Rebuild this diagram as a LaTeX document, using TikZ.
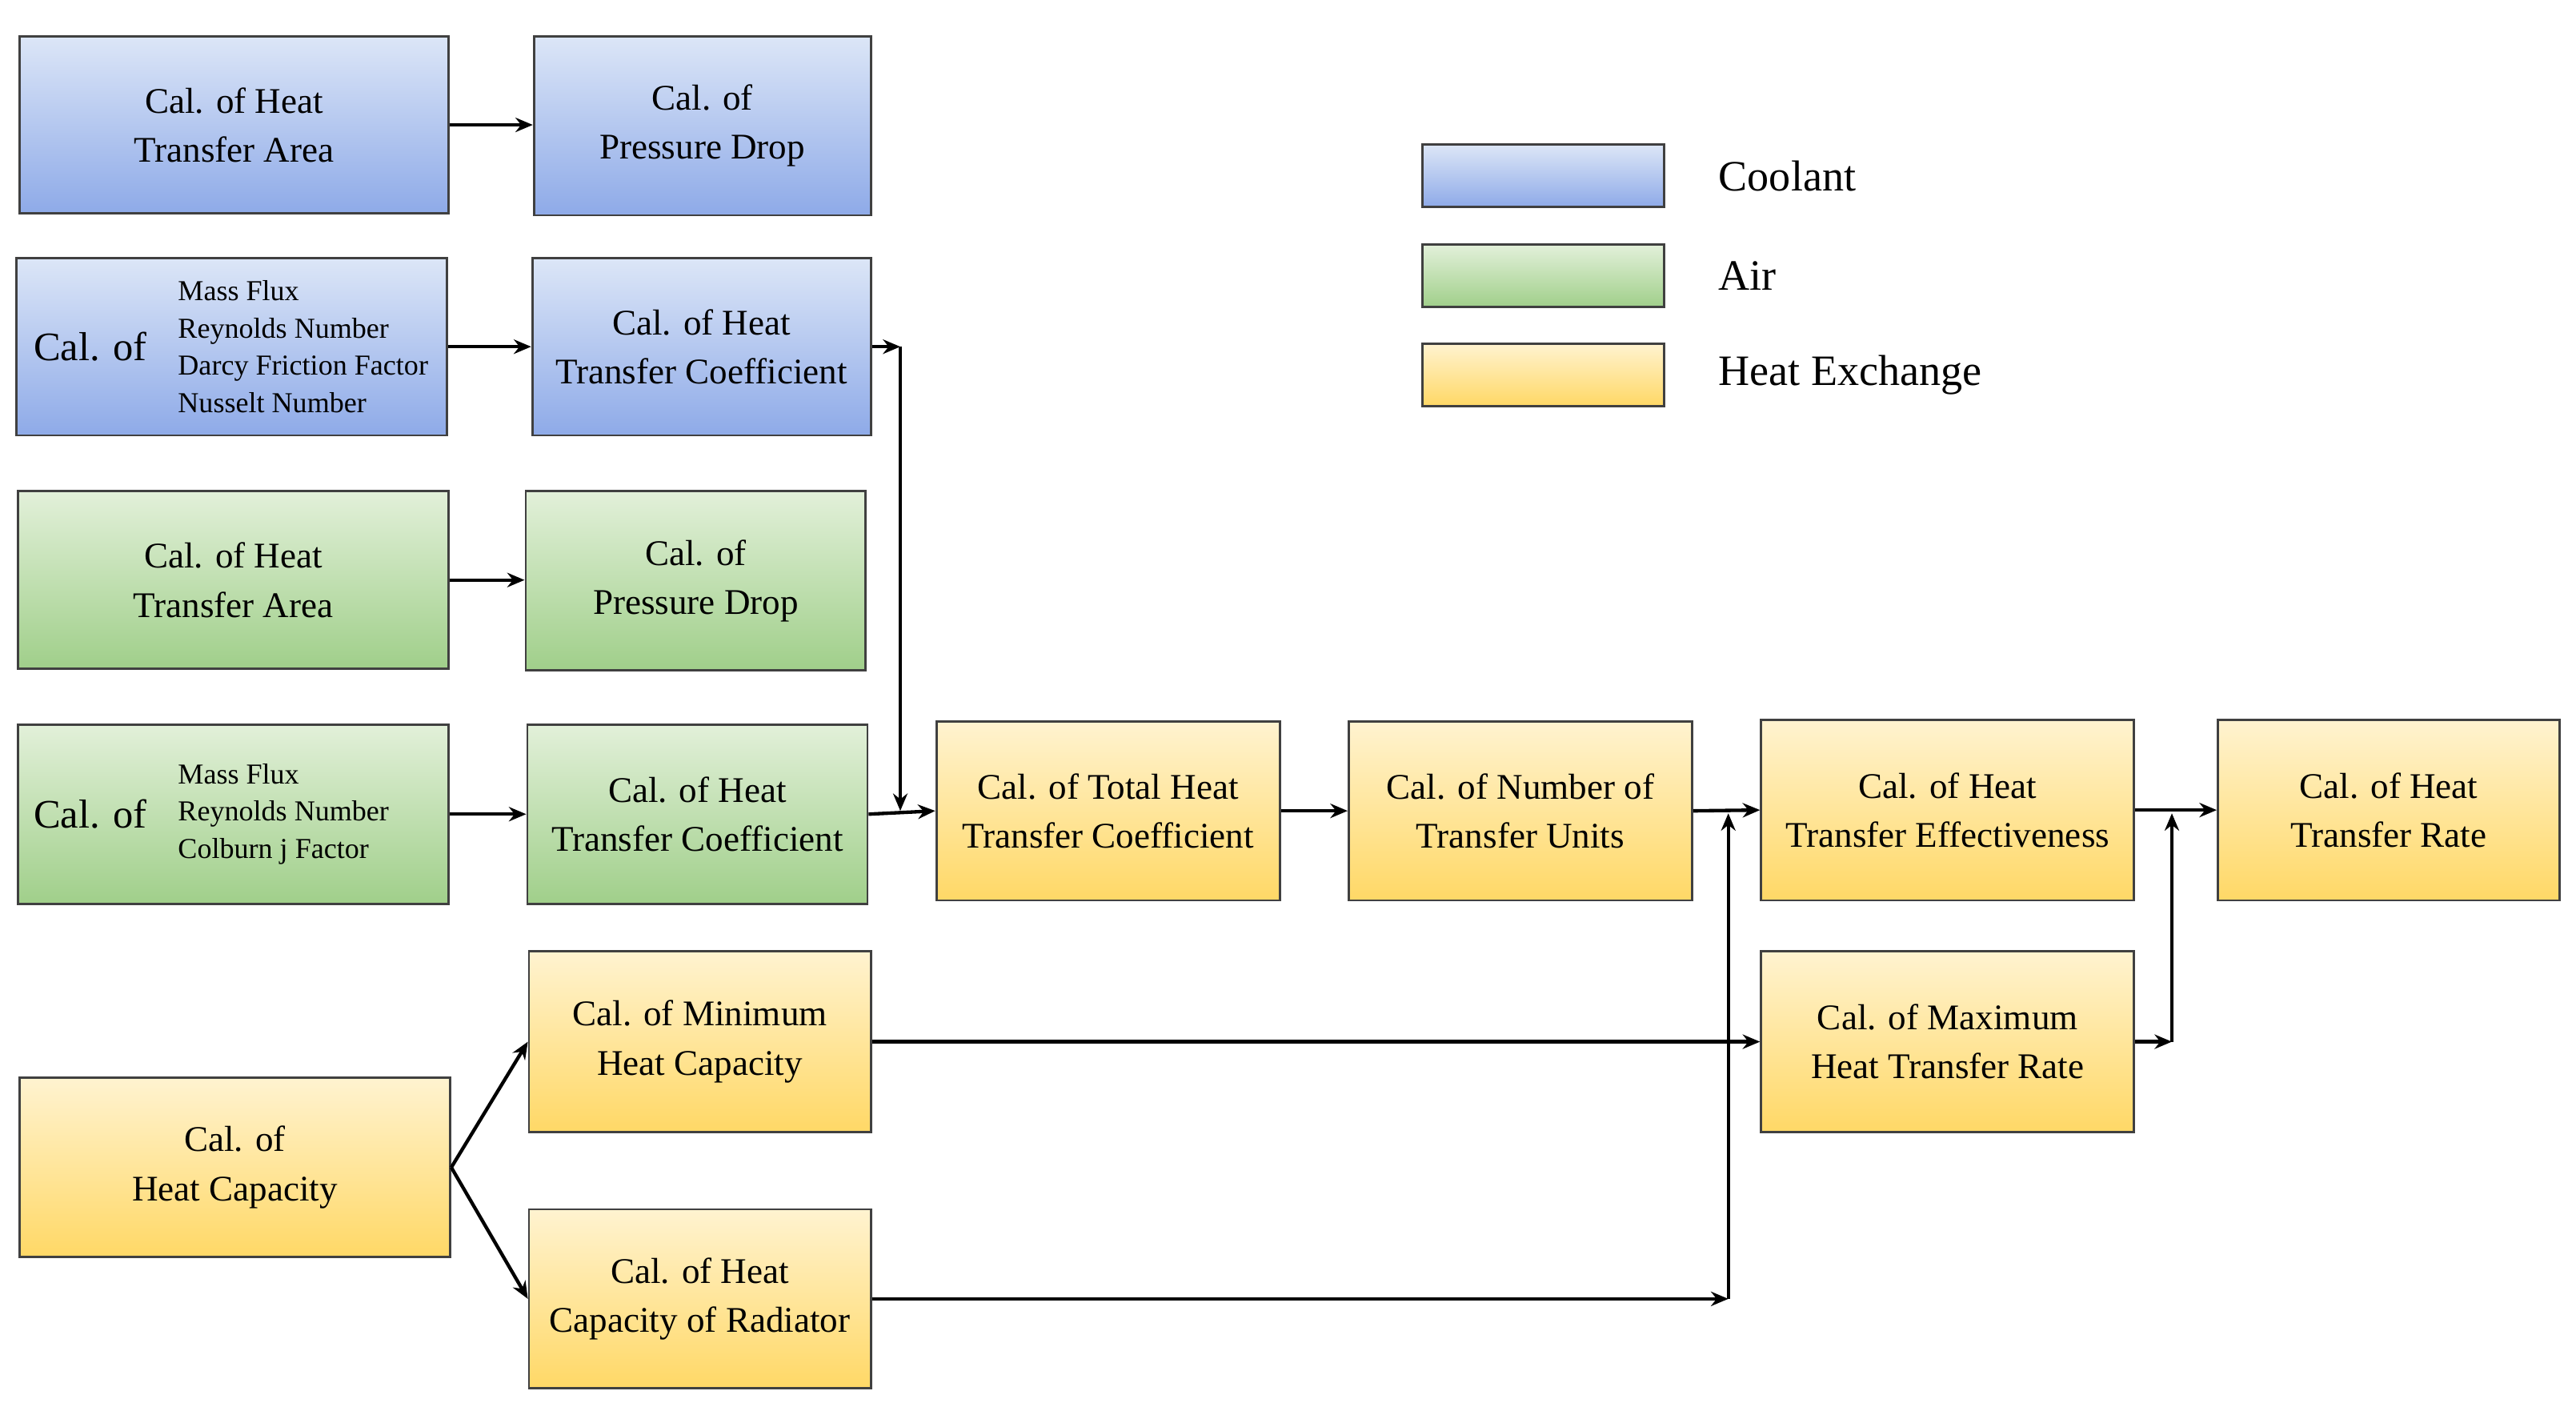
\documentclass[tikz,border=0pt]{standalone}
\usepackage{fontspec}
\setmainfont{Liberation Serif}
\usetikzlibrary{arrows.meta}
\definecolor{ct}{HTML}{DCE6F7}\definecolor{cb}{HTML}{8EAAE8}
\definecolor{at}{HTML}{E2F0D9}\definecolor{ab}{HTML}{A0CF8A}
\definecolor{ht}{HTML}{FFF3D0}\definecolor{hb}{HTML}{FFD866}
\tikzset{
 bx/.style={draw=black!75,line width=0.8pt,align=center,inner sep=2pt,font=\fontsize{12.5}{17}\selectfont},
 cool/.style={bx,top color=ct,bottom color=cb},
 air/.style={bx,top color=at,bottom color=ab},
 heat/.style={bx,top color=ht,bottom color=hb},
 arr/.style={line width=1.2pt,-{Stealth[length=6pt,width=5pt]}},
 lst/.style={align=left,anchor=west,font=\fontsize{10}{13}\selectfont,inner sep=0pt},
 big/.style={font=\fontsize{14}{17}\selectfont,inner sep=0pt},
 leg/.style={anchor=west,font=\fontsize{15}{18}\selectfont}
}
\begin{document}
\begin{tikzpicture}
\useasboundingbox (0,0) rectangle (31.36,-17.22);
\node[cool,minimum width=5.22cm,minimum height=2.16cm] (A1) at (2.85,-1.52) {Cal. of Heat\\Transfer Area};
\node[cool,minimum width=4.10cm,minimum height=2.18cm] (B1) at (8.55,-1.53) {Cal. of\\Pressure Drop};
\node[cool,minimum width=5.24cm,minimum height=2.16cm] (A2) at (2.82,-4.22) {};
\node[big] (A2c) at (1.1,-4.22) {Cal. of};
\node[lst] (A2l) at (2.16,-4.22) {Mass Flux\\Reynolds Number\\Darcy Friction Factor\\Nusselt Number};
\node[cool,minimum width=4.12cm,minimum height=2.16cm] (B2) at (8.54,-4.22) {Cal. of Heat\\Transfer Coefficient};
\node[air,minimum width=5.24cm,minimum height=2.16cm] (A3) at (2.84,-7.06) {Cal. of Heat\\Transfer Area};
\node[air,minimum width=4.14cm,minimum height=2.18cm] (B3) at (8.47,-7.07) {Cal. of\\Pressure Drop};
\node[air,minimum width=5.24cm,minimum height=2.18cm] (A4) at (2.84,-9.91) {};
\node[big] (A4c) at (1.1,-9.91) {Cal. of};
\node[lst] (A4l) at (2.16,-9.91) {Mass Flux\\Reynolds Number\\Colburn j Factor};
\node[air,minimum width=4.14cm,minimum height=2.18cm] (B4) at (8.49,-9.91) {Cal. of Heat\\Transfer Coefficient};
\node[heat,minimum width=4.18cm,minimum height=2.18cm] (T) at (13.49,-9.87) {Cal. of Total Heat\\Transfer Coefficient};
\node[heat,minimum width=4.18cm,minimum height=2.18cm] (N) at (18.51,-9.87) {Cal. of Number of\\Transfer Units};
\node[heat,minimum width=4.54cm,minimum height=2.2cm] (E) at (23.71,-9.86) {Cal. of Heat\\Transfer Effectiveness};
\node[heat,minimum width=4.16cm,minimum height=2.2cm] (R) at (29.08,-9.86) {Cal. of Heat\\Transfer Rate};
\node[heat,minimum width=4.16cm,minimum height=2.2cm] (Mn) at (8.52,-12.68) {Cal. of Minimum\\Heat Capacity};
\node[heat,minimum width=4.54cm,minimum height=2.2cm] (Mx) at (23.71,-12.68) {Cal. of Maximum\\Heat Transfer Rate};
\node[heat,minimum width=5.24cm,minimum height=2.18cm] (H) at (2.86,-14.21) {Cal. of\\Heat Capacity};
\node[heat,minimum width=4.16cm,minimum height=2.18cm] (CR) at (8.52,-15.81) {Cal. of Heat\\Capacity of Radiator};
% legend
\node[cool,minimum width=2.94cm,minimum height=0.76cm] (L1) at (18.79,-2.14) {};
\node[air,minimum width=2.94cm,minimum height=0.76cm] (L2) at (18.79,-3.36) {};
\node[heat,minimum width=2.94cm,minimum height=0.76cm] (L3) at (18.79,-4.56) {};
\node[leg] (T1) at (20.8,-2.14) {Coolant};
\node[leg] (T2) at (20.8,-3.36) {Air};
\node[leg] (T3) at (20.8,-4.56) {Heat Exchange};
% connectors
\coordinate (c1) at (10.96,-4.22);
\coordinate (c2) at (10.96,-9.87);
\coordinate (c3) at (21.04,-15.81);
\coordinate (c4) at (21.04,-9.9);
\coordinate (c5) at (26.44,-12.68);
\coordinate (c6) at (26.44,-9.9);
\draw[arr] (A1.east) -- (B1.west |- A1.east);
\draw[arr] (A2.east) -- (B2.west |- A2.east);
\draw[arr] (A3.east) -- (B3.west |- A3.east);
\draw[arr] (A4.east) -- (B4.west |- A4.east);
\draw[arr] (B2.east) -- (c1);
\draw[arr] (c1) -- (c2);
\draw[arr] (B4.east) -- (T.west);
\draw[arr] (T.east) -- (N.west);
\draw[arr] (N.east) -- (E.west);
\draw[arr] (E.east) -- (R.west);
\draw[arr] (Mn.east) -- (Mx.west);
\draw[arr] (CR.east) -- (c3);
\draw[arr] (c3) -- (c4);
\draw[arr] (Mx.east) -- (c5);
\draw[arr] (c5) -- (c6);
\draw[arr] (H.east) -- (Mn.west);
\draw[arr] (H.east) -- (CR.west);
\end{tikzpicture}
\end{document}
